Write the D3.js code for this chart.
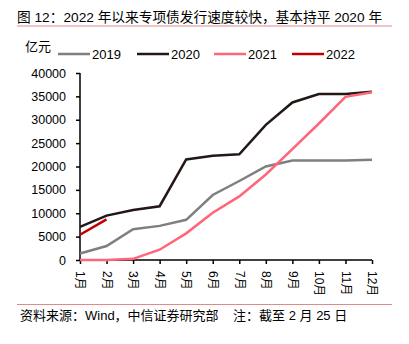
<!DOCTYPE html>
<html>
<head>
<meta charset="utf-8">
<script src="https://cdn.jsdelivr.net/npm/d3@7"></script>
<style>
  body { margin: 0; background: #fff; }
  text { font-family: "Liberation Sans", "Noto Sans CJK SC", sans-serif; fill: #000; white-space: pre; }
</style>
</head>
<body>
<svg id="chart"></svg>
<script>
// data (亿元, cumulative)
const months = ['1月','2月','3月','4月','5月','6月','7月','8月','9月','10月','11月','12月'];
const years = ['2019','2020','2021','2022'];
const v2019 = [1400, 3000, 6600, 7300, 8600, 13900, 16900, 20000, 21300, 21300, 21300, 21450];
const v2020 = [7100, 9500, 10700, 11500, 21500, 22300, 22600, 28900, 33700, 35500, 35500, 36000];
const v2021 = [0, 0, 250, 2200, 5700, 10100, 13600, 18300, 23700, 29200, 34900, 35900];
const v2022 = [5400, 8700];
const yTicks = [0, 5000, 10000, 15000, 20000, 25000, 30000, 35000, 40000];
const colors = ['#7f7f7f', '#231815', '#ff6677', '#c00000'];

const W = 409, H = 344;
const margin = {top: 73, right: 37, bottom: 84, left: 80};
const width = W - margin.left - margin.right;
const height = H - margin.top - margin.bottom;

const svg = d3.select('#chart').attr('width', W).attr('height', H);

// title + rules
svg.append('text')
    .attr('x', 17).attr('y', 22)
    .style('font-size', '13.7px')
    .text('图 12：2022 年以来专项债发行速度较快，基本持平 2020 年');
svg.append('line')
    .attr('x1', 17).attr('x2', 392).attr('y1', 26).attr('y2', 26)
    .attr('stroke', '#e08a8a').attr('stroke-width', 1);
svg.append('line')
    .attr('x1', 17).attr('x2', 392).attr('y1', 304.5).attr('y2', 304.5)
    .attr('stroke', '#e08a8a').attr('stroke-width', 1);
svg.append('text')
    .attr('x', 20).attr('y', 320)
    .style('font-size', '13px')
    .text('资料来源：Wind，中信证券研究部    注：截至 2 月 25 日');

svg.append('text')
    .attr('x', 25).attr('y', 51)
    .style('font-size', '13px')
    .text('亿元');

const chart = svg.append('g')
    .attr('transform', `translate(${margin.left},${margin.top})`);

const xScale = d3.scalePoint().domain(months).range([0, width]);
const yScale = d3.scaleLinear().domain([0, 40000]).range([height, 0]);

const yAxis = d3.axisLeft(yScale).tickValues(yTicks).tickSize(4).tickPadding(10).tickFormat(d3.format('d'));
const xAxis = d3.axisBottom(xScale).tickSize(4).tickPadding(4);

chart.append('g').call(yAxis)
    .call(g => g.selectAll('text').style('font-size', '12.5px'))
    .call(g => g.select('.domain').attr('d', `M0,0V${height}`));

chart.append('g')
    .attr('transform', `translate(0,${height})`)
    .call(xAxis)
    .call(g => g.select('.domain').attr('d', `M0,0H${width}`))
    .call(g => g.selectAll('text')
        .style('font-size', '12px')
        .attr('transform', 'rotate(90)')
        .attr('x', 11).attr('y', 0).attr('dy', '0.35em')
        .style('text-anchor', 'start'));

chart.selectAll('.domain, .tick line').attr('stroke', '#000').attr('stroke-width', 1.5);

const line = d3.line()
    .x((d, i) => xScale(months[i]))
    .y(d => yScale(d));

[v2019, v2020, v2021, v2022].forEach((vals, i) => {
  chart.append('path')
      .datum(vals)
      .attr('fill', 'none')
      .attr('stroke', colors[i])
      .attr('stroke-width', 2.5)
      .attr('d', line);
});

// legend
const legend = svg.append('g').attr('transform', 'translate(58,54)');
const legendX = [0, 79, 156, 234];
years.forEach((y, i) => {
  const g = legend.append('g').attr('transform', `translate(${legendX[i]},0)`);
  g.append('line').attr('x1', 0).attr('x2', 32)
      .attr('stroke', colors[i]).attr('stroke-width', 2.5);
  g.append('text').attr('x', 34).attr('dy', '0.35em')
      .style('font-size', '13px').text(y);
});
</script>
</body>
</html>
